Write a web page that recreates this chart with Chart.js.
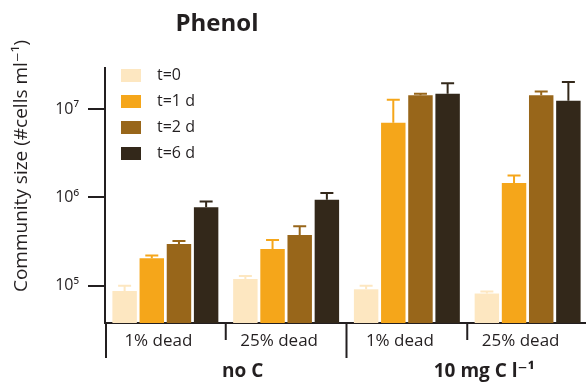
<!DOCTYPE html>
<html><head><meta charset="utf-8">
<script src="https://cdn.jsdelivr.net/npm/chart.js@4.4.1/dist/chart.umd.min.js"></script>
<style>html,body{margin:0;padding:0;overflow:hidden;background:#fff}#wrap{position:relative;width:588px;height:383px}</style>
</head><body><div id="wrap"><canvas id="c"></canvas></div>
<script>
// ---- data ----
const categories = ['1% dead', '25% dead', '1% dead', '25% dead'];
const groupLabels = ['no C', '10 mg C l⁻¹'];
const seriesNames = ['t=0', 't=1 d', 't=2 d', 't=6 d'];
const t0 = [8.7e4, 1.19e5, 9.1e4, 8.15e4];
const t0Upper = [1.0e5, 1.29e5, 9.95e4, 8.6e4];
const t1 = [2.04e5, 2.6e5, 6.97e6, 1.45e6];
const t1Upper = [2.2e5, 3.29e5, 1.27e7, 1.77e6];
const t2 = [2.96e5, 3.75e5, 1.43e7, 1.43e7];
const t2Upper = [3.2e5, 4.71e5, 1.49e7, 1.58e7];
const t6 = [7.74e5, 9.4e5, 1.49e7, 1.24e7];
const t6Upper = [8.96e5, 1.12e6, 1.95e7, 2.02e7];
const yTickValues = [1e5, 1e6, 1e7];
const yTickLabels = ['10⁵', '10⁶', '10⁷'];
const yAxisTitle = 'Community size (#cells ml⁻¹)';
const chartTitle = 'Phenol';
const yMin = 3.78e4, yMax = 2.91e7;

const colors = ['#FDE7C1', '#F5A61A', '#98661A', '#33281A'];
const seriesValues = [t0, t1, t2, t6];
const seriesUpper = [t0Upper, t1Upper, t2Upper, t6Upper];
const FONT = "'Open Sans', 'DejaVu Sans', sans-serif";
const INK = '#231f20';

function legendSwatch(color) {
  const cv = document.createElement('canvas');
  cv.width = 28; cv.height = 13;
  const g = cv.getContext('2d');
  g.fillStyle = color; g.fillRect(0, 0, 20, 13);
  return cv;
}

const errorBars = {
  id: 'errorBars',
  afterDatasetsDraw(chart) {
    const ctx = chart.ctx, y = chart.scales.y;
    chart.data.datasets.forEach((ds, i) => {
      const meta = chart.getDatasetMeta(i);
      meta.data.forEach((el, j) => {
        const yt = y.getPixelForValue(seriesUpper[i][j]);
        ctx.save();
        ctx.strokeStyle = colors[i];
        ctx.lineWidth = 2;
        ctx.beginPath();
        ctx.moveTo(el.x, el.y);
        ctx.lineTo(el.x, yt);
        ctx.moveTo(el.x - 6.5, yt);
        ctx.lineTo(el.x + 6.5, yt);
        ctx.stroke();
        ctx.restore();
      });
    });
  }
};

const decorations = {
  id: 'decorations',
  afterLayout(chart) {
    const lg = chart.legend, area = chart.chartArea;
    if (lg) {
      lg.left = area.left + 6;
      lg.right = lg.left + lg.width;
      lg.top = area.top - 10.5;
      lg.bottom = lg.top + lg.height;
    }
  },
  afterDraw(chart) {
    const ctx = chart.ctx, x = chart.scales.x, area = chart.chartArea;
    ctx.save();
    // group separators below the x axis
    ctx.strokeStyle = INK; ctx.lineWidth = 2;
    const n = categories.length;
    for (let k = 0; k < n; k++) {
      const px = k === 0 ? area.left + 1 : (x.getPixelForValue(k - 1) + x.getPixelForValue(k)) / 2;
      const len = (k % 2 === 0) ? 35 : 17;
      ctx.beginPath();
      ctx.moveTo(px, area.bottom);
      ctx.lineTo(px, area.bottom + len);
      ctx.stroke();
    }
    // title
    ctx.fillStyle = INK;
    ctx.font = "bold 24px " + FONT;
    ctx.textAlign = 'center'; ctx.textBaseline = 'middle';
    ctx.fillText(chartTitle, 217, 24);
    // y axis title
    ctx.translate(22, 166);
    ctx.rotate(-Math.PI / 2);
    ctx.font = "19px " + FONT;
    ctx.fillText(yAxisTitle, 0, 0);
    ctx.restore();
  }
};

new Chart(document.getElementById('c'), {
  type: 'bar',
  data: {
    labels: categories,
    datasets: seriesNames.map((name, i) => ({
      label: name,
      data: seriesValues[i],
      backgroundColor: colors[i],
      borderWidth: 0,
      pointStyle: legendSwatch(colors[i]),
      categoryPercentage: 0.9,
      barPercentage: 0.9
    }))
  },
  options: {
    responsive: true,
    maintainAspectRatio: false,
    animation: false,
    devicePixelRatio: 1,
    layout: { padding: { top: 68, left: 0, right: 0, bottom: 0 } },
    plugins: {
      legend: {
        position: 'chartArea',
        align: 'start',
        labels: {
          usePointStyle: true,
          pointStyleWidth: 28,
          boxHeight: 13,
          padding: 10,
          color: INK,
          font: { family: FONT, size: 16 }
        }
      },
      tooltip: { enabled: false },
      title: { display: false }
    },
    scales: {
      x: {
        type: 'category',
        offset: true,
        weight: 0,
        grid: { display: false, drawTicks: false },
        border: { display: true, color: INK, width: 2 },
        ticks: { color: INK, font: { family: FONT, size: 17 }, padding: 8, labelOffset: -7, maxRotation: 0, autoSkip: false },
        afterFit(s) { s.height = 30; }
      },
      x2: {
        type: 'category',
        labels: groupLabels,
        position: 'bottom',
        offset: true,
        weight: 1,
        grid: { display: false, drawTicks: false },
        border: { display: false },
        ticks: { color: INK, font: { family: FONT, size: 19, weight: 'bold' }, padding: 7, labelOffset: 17, maxRotation: 0, autoSkip: false },
        afterFit(s) { s.height = 30; }
      },
      y: {
        type: 'logarithmic',
        min: yMin,
        max: yMax,
        afterBuildTicks(s) { s.ticks = yTickValues.map(v => ({ value: v, major: false })); },
        grid: { drawOnChartArea: false, drawTicks: true, tickLength: 17, color: INK, lineWidth: 2 },
        border: { display: true, color: INK, width: 2 },
        ticks: { color: INK, font: { family: FONT, size: 16 }, padding: 9, callback: (v, i) => yTickLabels[i] },
        afterFit(s) { s.width = 105; }
      }
    }
  },
  plugins: [errorBars, decorations]
});
</script>
</body></html>
